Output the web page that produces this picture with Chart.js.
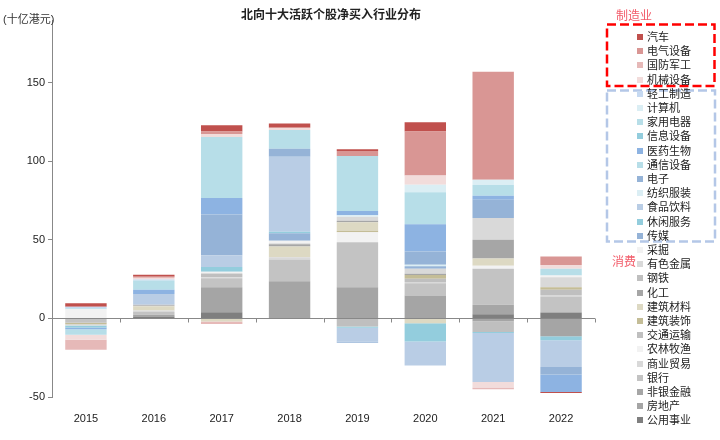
<!DOCTYPE html>
<html>
<head>
<meta charset="utf-8">
<script src="https://cdn.jsdelivr.net/npm/chart.js@4.4.0/dist/chart.umd.min.js"></script>
<style>
    body { margin: 0; background: #fff; font-family: 'Liberation Sans', 'Noto Sans CJK SC', sans-serif; }
    #wrap { position: relative; width: 720px; height: 440px; }
    #chart { position: absolute; left: 0; top: 0; }
    #title { position: absolute; left: 0; width: 662px; top: 5px; text-align: center; font-weight: bold; font-size: 12px; color: #222; }
    #unit { position: absolute; left: 3px; top: 10px; font-size: 11px; color: #333; }
    .grp { position: absolute; font-size: 12px; color: #f25c6a; }
    .item { position: absolute; left: 637px; height: 14px; line-height: 14px; font-size: 11px; color: #222; white-space: nowrap; }
    .item i { display: inline-block; width: 6px; height: 6px; margin-right: 4px; vertical-align: 1px; }
    svg { position: absolute; left: 0; top: 0; }
</style>
</head>
<body>
<div id="wrap">
    <canvas id="chart" width="720" height="440"></canvas>
    <div id="title">北向十大活跃个股净买入行业分布</div>
    <div id="unit">(十亿港元)</div>
    <svg width="720" height="440">
        <rect x="607" y="24.5" width="107.5" height="61.5" fill="none" stroke="#ff0000" stroke-width="2.5" stroke-dasharray="9 4"/>
        <rect x="607" y="90.5" width="108" height="151" fill="none" stroke="#b4c7e7" stroke-width="2.5" stroke-dasharray="9 4"/>
    </svg>
    <div class="grp" style="left:616px;top:6px;">制造业</div>
    <div class="grp" style="left:612px;top:252px;">消费</div>
    <div id="legend"></div>
</div>
<script>
// Years on the x axis
const years = ['2015', '2016', '2017', '2018', '2019', '2020', '2021', '2022'];

// Net buying per industry (HKD bn), one array per series, bottom of stack first
const utilities   = [0, 1.2, 4, 0, 0, 0, 2.7, 3.8];
const realEstate  = [0, 1.2, 15.9, 23.7, 19.9, 14.6, -1.7, -11.4];
const nonbankFin  = [0, 0, 0, 0, 0, 0, 6, 0];
const banks       = [-2.8, 1.7, 5.7, 13.8, 28.6, 7.8, 22.9, 10.2];
const commerce    = [0, 1, 0.6, 1.5, 0, 0.8, 0, 1];
const agriculture = [0, 0, 0, 0, 6.4, 0, 2, 0];
const transport   = [0, 0, 2.5, 0, -5.1, 2, -7, 3.2];
const construct   = [-0.9, 0, 0, 0, 1, 2.5, 0, 1.7];
const buildMat    = [0, 2.7, -2, 6.8, 5.3, -3, 4.6, 0];
const chemicals   = [0, 0, 0, 1.5, 1, 0.8, 11.9, 0];
const steel       = [0, 1, 0, 0, 0, 0, 0, 0];
const nonferrous  = [-0.8, 0, 0, 0.5, 2.5, 3.2, 13.8, 6.4];
const mining      = [5.8, 0, 1, 1.7, 0, 0, 0, 1];
const media       = [0, 0, 0, 4.7, 0, 1.5, 0, 0];
const leisure     = [-1.3, 0, 3, 1, -0.8, -11.7, -0.6, -2.5];
const foodBev     = [0, 6.8, 7.6, 47.7, -8.7, -15.3, -31.1, -17];
const textiles    = [0, 0, 0, 0, 1, 1, 0, 0];
const electronics = [0, 0, 25.9, 5.1, -0.8, 8.5, 11.7, -4.7];
const telecom     = [0.7, 0, 0, 0, 0, 0, 0, 0];
const pharma      = [-1.1, 2.7, 10.5, 0, 2.7, 17.2, 2.5, -11.2];
const infoEquip   = [0, 0, 0, 0, 0, 0, 0, 0];
const appliances  = [-3.4, 5.8, 38.8, 11.9, 35, 20.5, 6.8, 4.3];
const computers   = [0, 0, 0, 0, 0, 4.7, 3.4, 0];
const lightMfg    = [1, 0.7, 0, 0, 0, 0, 0, 0];
const machinery   = [-3.2, 1, 2, 1.5, 0, 5.9, -3.6, 2.5];
const defense     = [-6.4, 0.7, -1.5, 0, 0, 0, -1, 0];
const electrical  = [0, 0, 1.5, 0, 3.2, 28, 68.7, 5.3];
const autos       = [2.2, 1.4, 4, 2.7, 1.1, 5.9, 0, -0.6];

const seriesValues = [utilities, realEstate, nonbankFin, banks, commerce, agriculture, transport,
    construct, buildMat, chemicals, steel, nonferrous, mining, media, leisure, foodBev, textiles,
    electronics, telecom, pharma, infoEquip, appliances, computers, lightMfg, machinery, defense,
    electrical, autos];
const seriesNames = ['公用事业', '房地产', '非银金融', '银行', '商业贸易', '农林牧渔', '交通运输',
    '建筑装饰', '建筑材料', '化工', '钢铁', '有色金属', '采掘', '传媒', '休闲服务', '食品饮料', '纺织服装',
    '电子', '通信设备', '医药生物', '信息设备', '家用电器', '计算机', '轻工制造', '机械设备', '国防军工',
    '电气设备', '汽车'];
const seriesColors = ['#7f7f7f', '#a5a5a5', '#a6a6a6', '#c3c3c3', '#d9d9d9', '#f2f2f2', '#bfbfbf',
    '#c4bd97', '#ddd9c3', '#a6a6a6', '#bfbfbf', '#d9d9d9', '#f2f2f2', '#95b3d7', '#93cddd', '#b9cde5', '#dbeef4',
    '#95b3d7', '#b7dee8', '#8db3e2', '#93cddd', '#b7dee8', '#dbeef4', '#c6d9f1', '#f2dcdb', '#e6b9b8',
    '#d99694', '#c0504d'];

const yTicks = [-50, 0, 50, 100, 150];

// Build the HTML legend (top of stack first)
const legendEl = document.getElementById('legend');
for (let i = seriesNames.length - 1, row = 0; i >= 0; i--, row++) {
    const div = document.createElement('div');
    div.className = 'item';
    div.style.top = (30 + row * 14.2) + 'px';
    div.innerHTML = '<i style="background:' + seriesColors[i] + '"></i>' + seriesNames[i];
    legendEl.appendChild(div);
}

// Zero axis line and category tick marks drawn over the bars
const zeroAxis = {
    id: 'zeroAxis',
    afterDatasetsDraw(chart) {
        const { ctx, chartArea, scales } = chart;
        const y0 = Math.round(scales.y.getPixelForValue(0)) + 0.5;
        const step = (chartArea.right - chartArea.left) / years.length;
        ctx.save();
        ctx.strokeStyle = '#888';
        ctx.lineWidth = 1;
        ctx.beginPath();
        ctx.moveTo(chartArea.left, y0);
        ctx.lineTo(chartArea.right, y0);
        for (let i = 1; i <= years.length; i++) {
            const x = Math.round(chartArea.left + i * step) + 0.5;
            ctx.moveTo(x, y0);
            ctx.lineTo(x, y0 + 4);
        }
        ctx.stroke();
        ctx.restore();
    }
};

new Chart(document.getElementById('chart'), {
    type: 'bar',
    data: {
        labels: years,
        datasets: seriesValues.map((vals, i) => ({
            label: seriesNames[i],
            data: vals,
            backgroundColor: seriesColors[i],
            borderWidth: 0,
            barPercentage: 0.61,
            categoryPercentage: 1
        }))
    },
    options: {
        responsive: false,
        animation: false,
        layout: { padding: { left: 0, right: 125, top: 20, bottom: 0 } },
        plugins: {
            legend: { display: false },
            tooltip: { enabled: false }
        },
        scales: {
            x: {
                stacked: true,
                grid: { display: false },
                border: { display: false },
                ticks: { color: '#222', padding: 7, font: { size: 11 } },
                afterFit(scale) { scale.height = 43; }
            },
            y: {
                stacked: true,
                min: -50,
                max: 190,
                grid: {
                    drawOnChartArea: false,
                    tickColor: '#888',
                    tickLength: 4
                },
                border: { display: true, color: '#888' },
                ticks: { color: '#222', padding: 3, font: { size: 11 } },
                afterBuildTicks(scale) {
                    scale.ticks = yTicks.map(v => ({ value: v }));
                },
                afterFit(scale) { scale.width = 52; }
            }
        }
    },
    plugins: [zeroAxis]
});
</script>
</body>
</html>
